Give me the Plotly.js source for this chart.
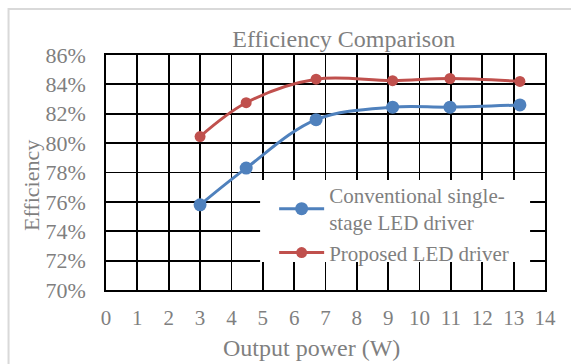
<!DOCTYPE html>
<html>
<head>
<meta charset="utf-8">
<script src="https://cdn.plot.ly/plotly-3.0.1.min.js"></script>
<style>html,body{margin:0;padding:0;background:#fff;}#chart{width:571px;height:364px;}</style>
</head>
<body>
<div id="chart"></div>
<script>
const conventionalPower = [3.0, 4.47, 6.7, 9.14, 10.97, 13.2];
const conventionalEff = [75.8, 78.3, 81.6, 82.45, 82.45, 82.6];
const proposedPower = [3.0, 4.47, 6.7, 9.14, 10.97, 13.2];
const proposedEff = [80.45, 82.75, 84.35, 84.25, 84.4, 84.2];
const seriesNames = ["Conventional single-<br>stage LED driver", "Proposed LED driver"];
const chartTitle = "Efficiency Comparison";
const xTitle = "Output power (W)";
const yTitle = "Efficiency";

const gray = "#7f7f7f";
const font = "Liberation Serif, Times New Roman, serif";

const traces = [
  {
    x: conventionalPower, y: conventionalEff, name: seriesNames[0],
    mode: "lines+markers", line: {shape: "spline", color: "#4f81bd", width: 3},
    marker: {size: 13, color: "#4f81bd"}
  },
  {
    x: proposedPower, y: proposedEff, name: seriesNames[1],
    mode: "lines+markers", line: {shape: "spline", color: "#c0504d", width: 3},
    marker: {size: 11, color: "#c0504d"}
  }
];

const layout = {
  width: 571, height: 364,
  margin: {l: 106, r: 26, t: 55, b: 74},
  paper_bgcolor: "#fff", plot_bgcolor: "#fff",
  font: {family: font, color: gray, size: 21},
  title: {text: chartTitle, font: {family: font, size: 24, color: gray}, x: 0.602, xanchor: "center", y: 0.895, yanchor: "middle"},
  xaxis: {
    range: [0, 14], dtick: 1, tick0: 0,
    showgrid: true, gridcolor: "#000", gridwidth: 1.8,
    showline: true, linecolor: "#000", linewidth: 1.8, mirror: true,
    zeroline: false, ticks: "", ticklabelstandoff: 8,
    tickfont: {family: font, size: 21, color: gray}
  },
  yaxis: {
    range: [70, 86], dtick: 2, tick0: 70, ticksuffix: "%",
    showgrid: true, gridcolor: "#000", gridwidth: 1.8,
    showline: true, linecolor: "#000", linewidth: 1.8, mirror: true,
    zeroline: false, ticks: "", ticklabelstandoff: 14,
    tickfont: {family: font, size: 22, color: gray}
  },
  annotations: [
    {text: xTitle, xref: "paper", yref: "paper", x: (311 - 106) / 439, y: -(348 - 290) / 235,
     xanchor: "center", yanchor: "middle", showarrow: false, font: {family: font, size: 24, color: gray}},
    {text: yTitle, xref: "paper", yref: "paper", x: -(106 - 31) / 439, y: (290 - 186) / 235,
     xanchor: "center", yanchor: "middle", showarrow: false, textangle: -90, font: {family: font, size: 22, color: gray}}
  ],
  showlegend: true,
  legend: {
    x: 0.383, y: 0.49, xanchor: "left", yanchor: "top",
    bgcolor: "rgba(255,255,255,0)", borderwidth: 0, itemwidth: 45,
    font: {family: font, size: 21, color: gray},
    tracegroupgap: 0
  },
  shapes: [
    {
      type: "rect", xref: "paper", yref: "paper", layer: "below",
      x0: -0.222, x1: 1.2, y0: -0.4, y1: 1.196,
      line: {color: "#d9d9d9", width: 2}, fillcolor: "rgba(0,0,0,0)"
    },
    {
      type: "rect", xref: "paper", yref: "paper", layer: "above",
      x0: 0.351, x1: 0.966, y0: 0.119, y1: 0.468,
      line: {width: 0}, fillcolor: "#fff"
    }
  ]
};

Plotly.newPlot("chart", traces, layout, {displayModeBar: false, staticPlot: true});
</script>
</body>
</html>
